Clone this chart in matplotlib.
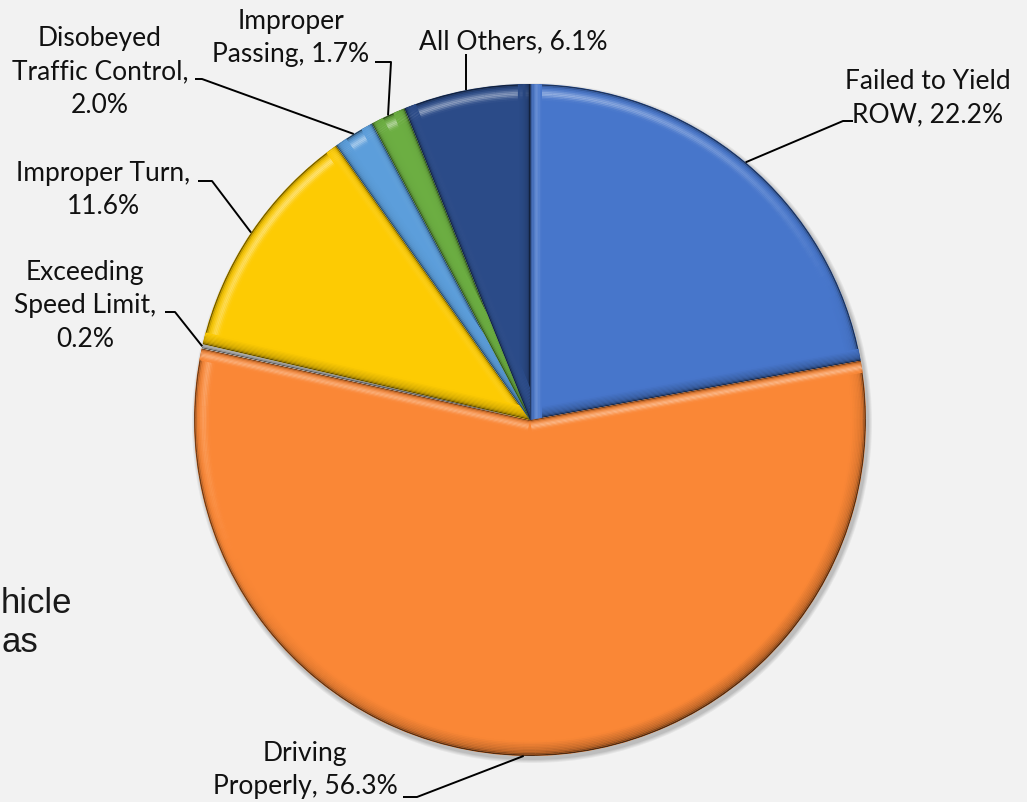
import numpy as np
import matplotlib
matplotlib.use("Agg")
import matplotlib.pyplot as plt
from matplotlib.patches import Wedge, Polygon, Circle
from matplotlib.lines import Line2D
from matplotlib.colors import to_rgb

# ---- data -------------------------------------------------------------
categories = ["Failed to Yield\nROW", "Driving\nProperly", "Exceeding\nSpeed Limit",
              "Improper Turn", "Disobeyed\nTraffic Control", "Improper\nPassing",
              "All Others"]
shares = [22.2, 56.3, 0.2, 11.6, 2.0, 1.7, 6.1]
value_on_new_line = [False, False, True, True, True, False, False]
colors = ["#4776CB", "#FA8736", "#E6E6E6", "#FDCB03", "#5C9EDB", "#6CAE42", "#2B4B88"]

# ---- layout (pixel space, y measured from top) ------------------------
W, H = 1027, 803
CX, CY, R = 530, 421, 336
label_pos = [(928, 98), (305, 770), (85, 306), (103, 190), (100, 72), (291, 38), (513, 42)]
leader_pts = [[(843, 122), (853, 122)],
              [(417, 798), (403, 798)],
              [(175, 313), (165, 313)],
              [(212, 182), (198, 182)],
              [(202, 80), (195, 80)],
              [(391, 63), (375, 63)],
              [(None, 55)]]

FONT = "Lato"
BG = "#F2F2F2"


def Y(y):
    return H - y


def mix(c, target, f):
    c = np.array(to_rgb(c))
    t = np.array(to_rgb(target))
    return tuple(np.clip(c + (t - c) * f, 0, 1))


fig = plt.figure(figsize=(W / 100, H / 100), dpi=100, facecolor=BG)
ax = fig.add_axes([0, 0, 1, 1])
ax.set_facecolor(BG)

# soft shadow beneath the pie
for k, a in enumerate([0.05, 0.05, 0.06, 0.07]):
    ax.add_patch(Circle((CX + 2, Y(CY) - 3), R + 4 - k, color="black", alpha=a, lw=0, zorder=1))

wedges, _ = ax.pie(shares, colors=colors, startangle=90, counterclock=False,
                   center=(CX, Y(CY)), radius=R,
                   wedgeprops=dict(linewidth=0, zorder=2))

light = np.array([-0.45, 1.0])
light = light / np.linalg.norm(light)

# bevel on each slice: rim shading along the arc and along both straight edges
for w, col in zip(wedges, colors):
    t1, t2 = w.theta1, w.theta2
    # arc rim
    n_seg = max(2, int(np.ceil((t2 - t1) / 2.0)))
    edges = np.linspace(t1, t2, n_seg + 1)
    depth = np.arange(0, 16, 1.5)
    for a0, a1 in zip(edges[:-1], edges[1:]):
        phi = np.deg2rad((a0 + a1) / 2)
        s = float(np.dot([np.cos(phi), np.sin(phi)], light))
        for d in depth:
            dark = 0.55 * np.exp(-d / 1.6)
            c = mix(col, "black", dark)
            if s > 0:
                hl = 0.45 * s * np.exp(-((d - 9.0) / 3.5) ** 2)
                c = mix(c, "white", hl)
            else:
                sh = 0.32 * (-s) * max(0.0, 1 - d / 14.0)
                c = mix(c, "black", sh)
            p = Wedge((CX, Y(CY)), R - d, a0, a1 + 0.05, width=1.6, color=c, lw=0, zorder=3)
            p.set_clip_path(w)
            ax.add_patch(p)
    # straight edges
    for ang, sign in ((t1, -1), (t2, 1)):
        th = np.deg2rad(ang)
        u = np.array([np.cos(th), np.sin(th)])
        n_out = np.array([np.cos(th + sign * np.pi / 2), np.sin(th + sign * np.pi / 2)])
        s = float(np.dot(n_out, light))
        for d in np.arange(0, 12, 1.2):
            dark = 0.5 * np.exp(-d / 1.4)
            c = mix(col, "black", dark)
            if s > 0:
                c = mix(c, "white", 0.4 * s * np.exp(-((d - 6.0) / 2.8) ** 2))
            else:
                c = mix(c, "black", 0.28 * (-s) * max(0.0, 1 - d / 11.0))
            o1, o2 = -n_out * d, -n_out * (d + 1.3)
            c0 = np.array([CX, Y(CY)])
            poly = Polygon([c0 + o1, c0 + u * R + o1, c0 + u * R + o2, c0 + o2],
                           closed=True, color=c, lw=0, zorder=4)
            poly.set_clip_path(w)
            ax.add_patch(poly)

# labels with leader lines
cum = np.cumsum([0] + shares)
total = cum[-1]
for i, (cat, v) in enumerate(zip(categories, shares)):
    mid = 90 - 360 * (cum[i] + v / 2) / total
    th = np.deg2rad(mid)
    ax0 = CX + R * np.cos(th)
    ay0 = Y(CY) + R * np.sin(th)
    xs, ys = [ax0], [ay0]
    for (px, py) in leader_pts[i]:
        xs.append(ax0 if px is None else px)
        ys.append(Y(py))
    ax.add_line(Line2D(xs, ys, color="black", lw=1.4, zorder=6, solid_capstyle="butt"))
    sep = "\n" if value_on_new_line[i] else " "
    text = f"{cat},{sep}{v:.1f}%"
    tx, ty = label_pos[i]
    ax.text(tx, Y(ty), text, ha="center", va="center", multialignment="center",
            fontsize=19, family=FONT, color="#111111", linespacing=1.42, zorder=7)

# fragment of slide body text at the left edge
ax.text(1, Y(613), "hicle", ha="left", va="baseline", fontsize=25,
        family="Liberation Sans", color="#1A1A1A")
ax.text(1, Y(652), "as", ha="left", va="baseline", fontsize=25,
        family="Liberation Sans", color="#1A1A1A")

ax.set_xlim(0, W)
ax.set_ylim(0, H)
ax.set_aspect("equal")
ax.axis("off")

fig.savefig("out.png", dpi=100, facecolor=BG)
